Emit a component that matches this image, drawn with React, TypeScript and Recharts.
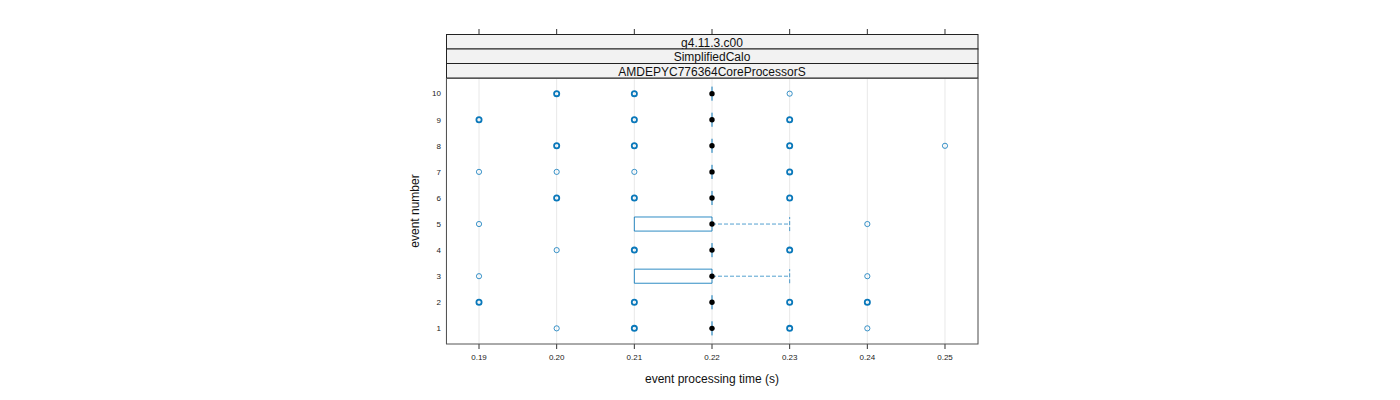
import React from 'react';
import {
  ComposedChart, XAxis, YAxis, CartesianGrid, Scatter, ReferenceLine, ReferenceArea,
} from 'recharts';

// boxplot summary per event (seconds)
const events = [1, 2, 3, 4, 5, 6, 7, 8, 9, 10];
const q1 = [0.22, 0.22, 0.21, 0.22, 0.21, 0.22, 0.22, 0.22, 0.22, 0.22];
const medians = [0.22, 0.22, 0.22, 0.22, 0.22, 0.22, 0.22, 0.22, 0.22, 0.22];
const q3 = [0.22, 0.22, 0.22, 0.22, 0.22, 0.22, 0.22, 0.22, 0.22, 0.22];
const whiskerHigh = [0.22, 0.22, 0.23, 0.22, 0.23, 0.22, 0.22, 0.22, 0.22, 0.22];

// outliers: event, time, how many runs sit on top of each other
const outlierEvent = [1, 1, 1, 1, 2, 2, 2, 2, 3, 3, 4, 4, 4, 5, 5, 6, 6, 6, 7, 7, 7, 7, 8, 8, 8, 8, 9, 9, 9, 10, 10, 10];
const outlierTime = [
  0.20, 0.21, 0.23, 0.24,
  0.19, 0.21, 0.23, 0.24,
  0.19, 0.24,
  0.20, 0.21, 0.23,
  0.19, 0.24,
  0.20, 0.21, 0.23,
  0.19, 0.20, 0.21, 0.23,
  0.20, 0.21, 0.23, 0.25,
  0.19, 0.21, 0.23,
  0.20, 0.21, 0.23,
];
const outlierCount = [
  1, 3, 3, 1,
  2, 3, 3, 2,
  1, 1,
  1, 3, 3,
  1, 1,
  2, 3, 3,
  1, 1, 1, 3,
  2, 3, 3, 1,
  2, 3, 3,
  2, 3, 1,
];

const xTicks = [0.19, 0.2, 0.21, 0.22, 0.23, 0.24, 0.25];
const stripLabels = ['g4.11.3.c00', 'SimplifiedCalo', 'AMDEPYC776364CoreProcessorS'];

const BLUE = '#0a78ba';
const HALF = 0.27;
const font = '"Liberation Sans", Arial, sans-serif';

const outliers = outlierTime.map((t, i) => ({ x: t, y: outlierEvent[i], n: outlierCount[i] }));
const heavy = outliers.filter(d => d.n > 1);
const light = outliers.filter(d => d.n === 1);
const medianPts = events.map((e, i) => ({ x: medians[i], y: e }));

export default function App() {
  return (
    <div style={{ position: 'absolute', left: 0, top: 0, width: 1400, height: 400, background: '#fff', fontFamily: font }}>
      <ComposedChart width={1400} height={400} margin={{ top: 35, right: 422, left: 406, bottom: 10 }}>
        <CartesianGrid vertical horizontal={false} stroke="#e8e8e8" />
        <XAxis
          type="number" dataKey="x" domain={[0.18575, 0.25425]} ticks={xTicks} allowDataOverflow
          tickFormatter={(v: number) => v.toFixed(2)} tickSize={5} tickMargin={5} axisLine={false}
          stroke="#333" tick={{ fontSize: 8, fill: '#222', fontFamily: font }} height={46}
          label={{ value: 'event processing time (s)', position: 'insideBottom', offset: 7, fontSize: 12, fill: '#111', fontFamily: font }}
        />
        <XAxis
          xAxisId="top" orientation="top" type="number" dataKey="x" domain={[0.18575, 0.25425]} ticks={xTicks}
          allowDataOverflow tickSize={49} axisLine={false} stroke="#333" tickFormatter={() => ''} height={43}
        />
        <YAxis
          type="number" dataKey="y" domain={[0.4, 10.6]} ticks={events} allowDataOverflow width={40}
          tickLine={false} axisLine={false} tickSize={0} tickMargin={5}
          tick={{ fontSize: 8, fill: '#222', fontFamily: font }}
          label={{ value: 'event number', angle: -90, position: 'center', dx: -11, fontSize: 12, fill: '#111', fontFamily: font }}
        />
        {events.map((e, i) =>
          q1[i] === q3[i] ? (
            <ReferenceLine key={'b' + e} segment={[{ x: q1[i], y: e - HALF }, { x: q1[i], y: e + HALF }]} stroke={BLUE} strokeWidth={1} />
          ) : (
            <ReferenceArea key={'b' + e} x1={q1[i]} x2={q3[i]} y1={e - HALF} y2={e + HALF} fill="none" fillOpacity={0} stroke={BLUE} strokeWidth={1} strokeOpacity={0.85} />
          )
        )}
        {events.map((e, i) =>
          whiskerHigh[i] > q3[i] ? (
            <ReferenceLine key={'w' + e} segment={[{ x: q3[i], y: e }, { x: whiskerHigh[i], y: e }]} stroke={BLUE} strokeOpacity={0.7} strokeDasharray="4 2" />
          ) : null
        )}
        {events.map((e, i) =>
          whiskerHigh[i] > q3[i] ? (
            <ReferenceLine key={'c' + e} segment={[{ x: whiskerHigh[i], y: e - HALF }, { x: whiskerHigh[i], y: e + HALF }]} stroke={BLUE} strokeOpacity={0.7} strokeDasharray="4 2" />
          ) : null
        )}
        <Scatter
          data={light} isAnimationActive={false}
          shape={(p: any) => <circle cx={p.cx} cy={p.cy} r={2.6} fill="none" stroke={BLUE} strokeOpacity={0.8} strokeWidth={1} />}
        />
        <Scatter
          data={heavy} isAnimationActive={false}
          shape={(p: any) => <circle cx={p.cx} cy={p.cy} r={2.6} fill="none" stroke={BLUE} strokeWidth={1.8} />}
        />
        <Scatter
          data={medianPts} isAnimationActive={false}
          shape={(p: any) => <circle cx={p.cx} cy={p.cy} r={2.7} fill="#000" />}
        />
      </ComposedChart>
      <svg width={1400} height={400} style={{ position: 'absolute', left: 0, top: 0, pointerEvents: 'none' }}>
        {stripLabels.map((s, i) => (
          <g key={s}>
            <rect x={446.5} y={34.5 + i * 14.5} width={531.5} height={14.5} fill="#f2f2f2" stroke="#222" strokeWidth={1} />
            <text x={712} y={34.5 + i * 14.5 + 12} textAnchor="middle" fontSize={12} fill="#111" fontFamily={font}>{s}</text>
          </g>
        ))}
        <rect x={446.5} y={78.5} width={531.5} height={265.5} fill="none" stroke="#555" strokeWidth={1} />
      </svg>
    </div>
  );
}
